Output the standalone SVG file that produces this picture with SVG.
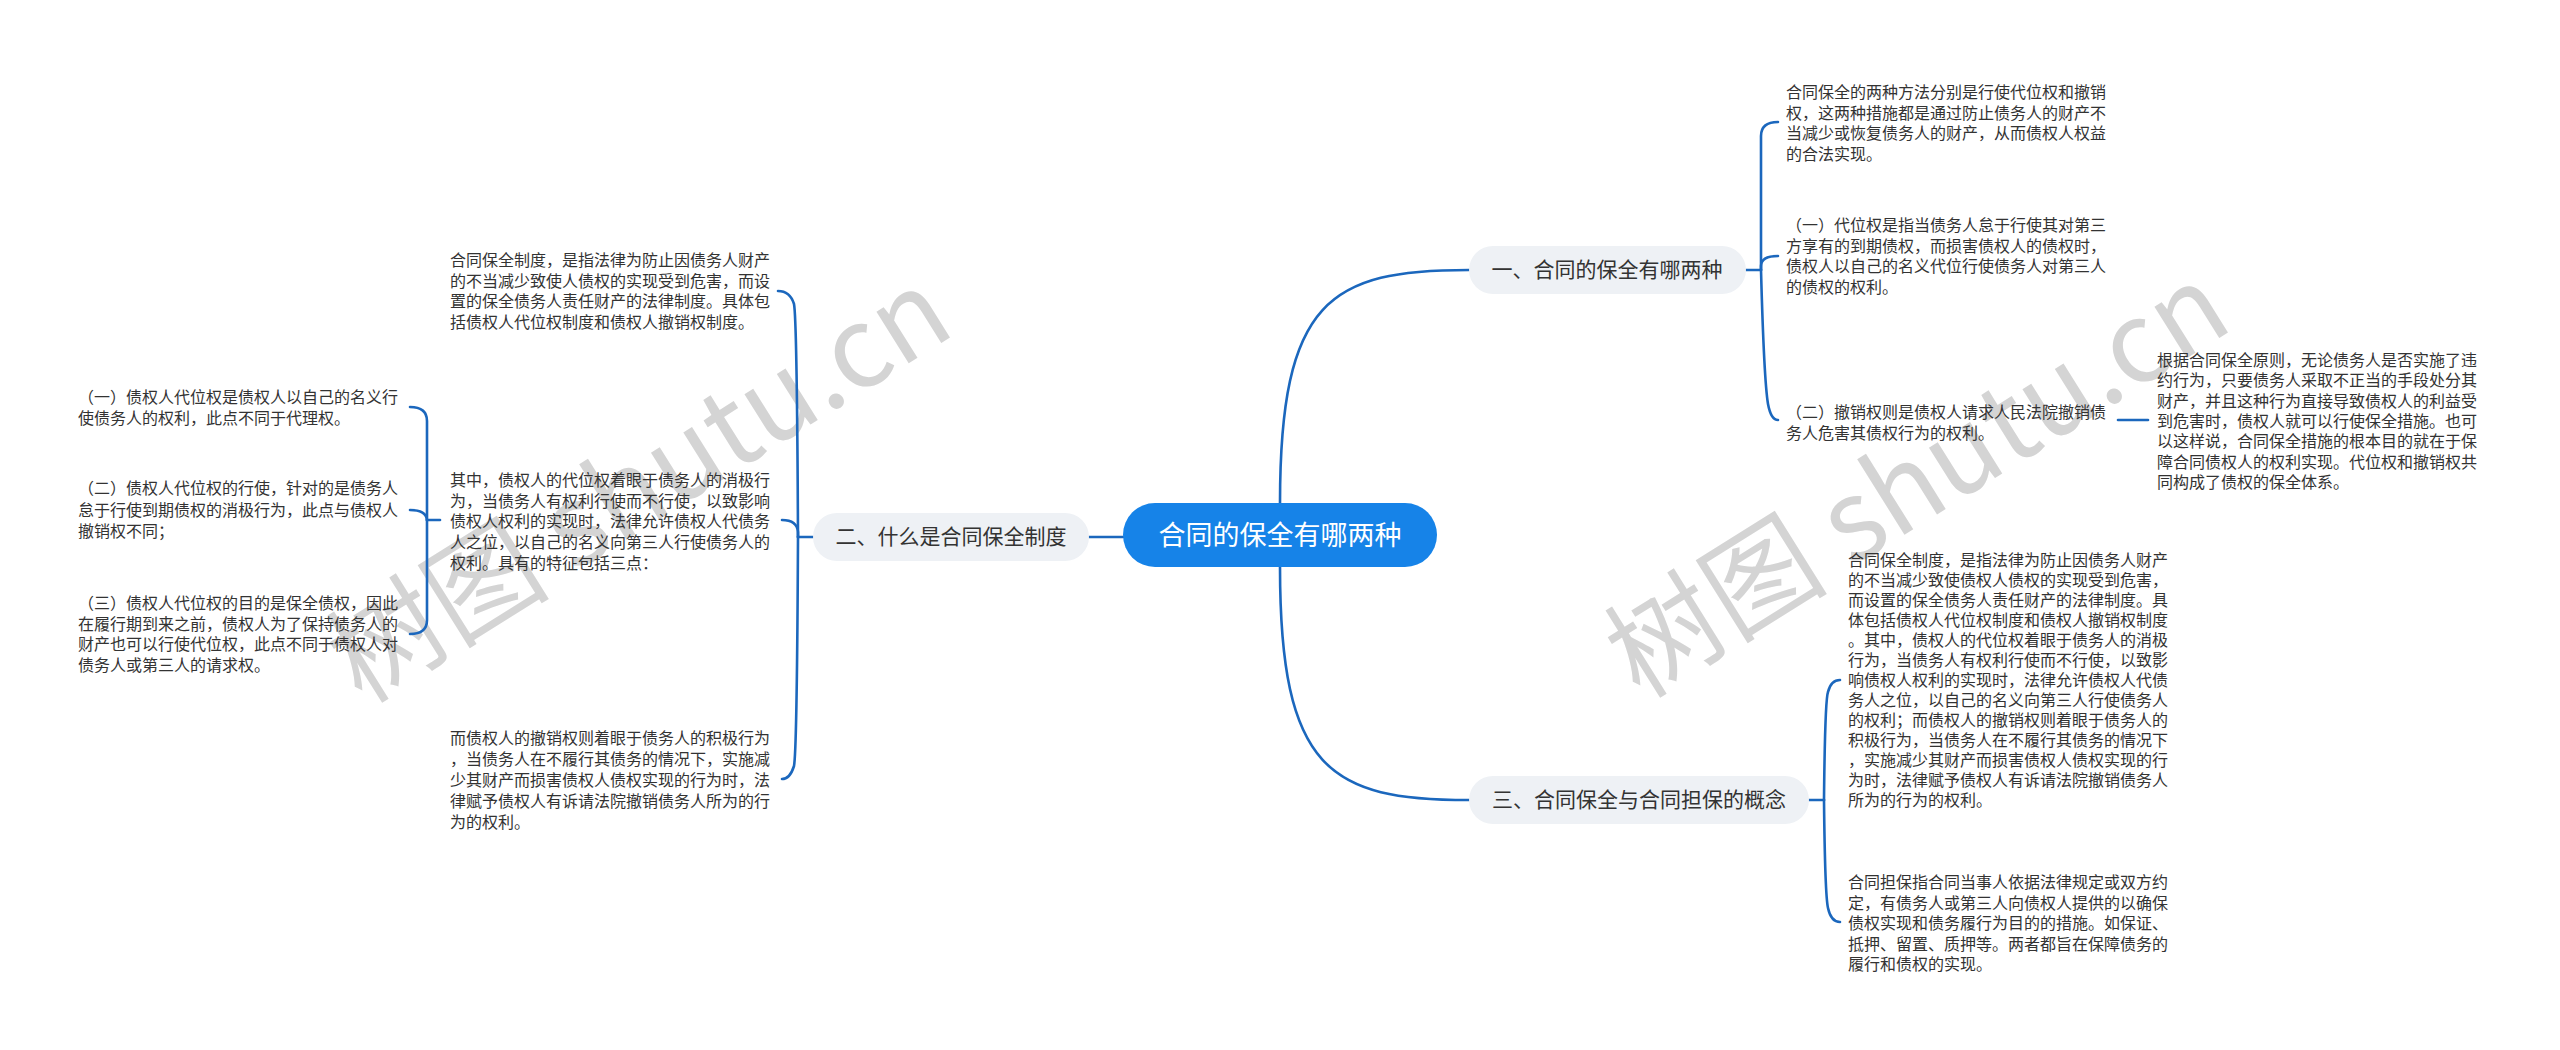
<svg xmlns="http://www.w3.org/2000/svg" width="2560" height="1050" viewBox="0 0 2560 1050">
<style>
.wm{font-family:"Noto Sans CJK SC","Noto Sans",sans-serif;font-size:112px;fill:#d4d4d4}
.ln{fill:none;stroke:#1b67bd;stroke-width:2.6;stroke-linecap:round}
.nb{fill:#eef1f5}
.nt{font-family:"Noto Sans CJK SC",sans-serif;font-size:21px;fill:#333;text-anchor:middle}
.rt{font-family:"Noto Sans CJK SC",sans-serif;font-size:27px;fill:#fff;text-anchor:middle}
.tx{font-family:"Noto Sans CJK SC",sans-serif;font-size:16px;fill:#333}
</style>
<rect width="2560" height="1050" fill="#fff"/>
<g id="watermark">
<text class="wm" transform="translate(362,705) rotate(-32)">树图 shutu.cn</text>
<text class="wm" transform="translate(1640,700) rotate(-32)">树图 shutu.cn</text>
</g>
<g id="connectors">
<path class="ln" d="M1280,503 C1280,300 1330,270 1469,270"/>
<path class="ln" d="M1280,567 C1280,770 1330,800 1469,800"/>
<path class="ln" d="M1123,537 L1089,537"/>
<path class="ln" d="M1746,270 L1761,270"/>
<path class="ln" d="M1761,270 L1761,136 Q1761,122 1778,122"/>
<path class="ln" d="M1761,270 L1761,266 Q1761,256 1778,256"/>
<path class="ln" d="M1761,270 Q1764,380 1768,404 Q1771,420 1778,420"/>
<path class="ln" d="M1809,800 L1824,800"/>
<path class="ln" d="M1824,800 Q1825,700 1828,692 Q1831,680 1840,680"/>
<path class="ln" d="M1824,800 Q1825,895 1828,908 Q1831,922 1840,922"/>
<path class="ln" d="M2118,420 L2148,420"/>
<path class="ln" d="M813,537 L798,537"/>
<path class="ln" d="M798,537 Q797,320 794,304 Q790,291 778,291"/>
<path class="ln" d="M798,537 L798,532 Q797,520 782,520"/>
<path class="ln" d="M798,537 Q797,750 794,766 Q790,779 782,779"/>
<path class="ln" d="M440,520 L427,520"/>
<path class="ln" d="M427,520 L427,421 Q427,407 410,407"/>
<path class="ln" d="M427,520 L427,520 Q426,510 410,510"/>
<path class="ln" d="M427,520 L427,620 Q427,634 410,634"/>
</g>
<g id="root">
<rect x="1123" y="503" width="314" height="64" rx="32" fill="#1683e8"/>
<text class="rt" x="1280" y="545">合同的保全有哪两种</text>
</g>
<g id="node1">
<rect class="nb" x="1469" y="246" width="277" height="48" rx="24"/>
<text class="nt" x="1607" y="277">一、合同的保全有哪两种</text>
</g>
<g id="node2">
<rect class="nb" x="813" y="513" width="276" height="48" rx="24"/>
<text class="nt" x="951" y="544">二、什么是合同保全制度</text>
</g>
<g id="node3">
<rect class="nb" x="1469" y="776" width="340" height="48" rx="24"/>
<text class="nt" x="1639" y="807">三、合同保全与合同担保的概念</text>
</g>
<g id="t1">
<text class="tx" x="1786" y="98">
<tspan x="1786" dy="0">合同保全的两种方法分别是行使代位权和撤销</tspan>
<tspan x="1786" dy="20.5">权，这两种措施都是通过防止债务人的财产不</tspan>
<tspan x="1786" dy="20.5">当减少或恢复债务人的财产，从而债权人权益</tspan>
<tspan x="1786" dy="20.5">的合法实现。</tspan>
</text>
</g>
<g id="t2">
<text class="tx" x="1786" y="231">
<tspan x="1786" dy="0">（一）代位权是指当债务人怠于行使其对第三</tspan>
<tspan x="1786" dy="20.5">方享有的到期债权，而损害债权人的债权时，</tspan>
<tspan x="1786" dy="20.5">债权人以自己的名义代位行使债务人对第三人</tspan>
<tspan x="1786" dy="20.5">的债权的权利。</tspan>
</text>
</g>
<g id="t3">
<text class="tx" x="1786" y="418">
<tspan x="1786" dy="0">（二）撤销权则是债权人请求人民法院撤销债</tspan>
<tspan x="1786" dy="20.5">务人危害其债权行为的权利。</tspan>
</text>
</g>
<g id="t4">
<text class="tx" x="2157" y="366">
<tspan x="2157" dy="0">根据合同保全原则，无论债务人是否实施了违</tspan>
<tspan x="2157" dy="20.3">约行为，只要债务人采取不正当的手段处分其</tspan>
<tspan x="2157" dy="20.3">财产，并且这种行为直接导致债权人的利益受</tspan>
<tspan x="2157" dy="20.3">到危害时，债权人就可以行使保全措施。也可</tspan>
<tspan x="2157" dy="20.3">以这样说，合同保全措施的根本目的就在于保</tspan>
<tspan x="2157" dy="20.3">障合同债权人的权利实现。代位权和撤销权共</tspan>
<tspan x="2157" dy="20.3">同构成了债权的保全体系。</tspan>
</text>
</g>
<g id="t5">
<text class="tx" x="1848" y="566">
<tspan x="1848" dy="0">合同保全制度，是指法律为防止因债务人财产</tspan>
<tspan x="1848" dy="20">的不当减少致使债权人债权的实现受到危害，</tspan>
<tspan x="1848" dy="20">而设置的保全债务人责任财产的法律制度。具</tspan>
<tspan x="1848" dy="20">体包括债权人代位权制度和债权人撤销权制度</tspan>
<tspan x="1848" dy="20">。其中，债权人的代位权着眼于债务人的消极</tspan>
<tspan x="1848" dy="20">行为，当债务人有权利行使而不行使，以致影</tspan>
<tspan x="1848" dy="20">响债权人权利的实现时，法律允许债权人代债</tspan>
<tspan x="1848" dy="20">务人之位，以自己的名义向第三人行使债务人</tspan>
<tspan x="1848" dy="20">的权利；而债权人的撤销权则着眼于债务人的</tspan>
<tspan x="1848" dy="20">积极行为，当债务人在不履行其债务的情况下</tspan>
<tspan x="1848" dy="20">，实施减少其财产而损害债权人债权实现的行</tspan>
<tspan x="1848" dy="20">为时，法律赋予债权人有诉请法院撤销债务人</tspan>
<tspan x="1848" dy="20">所为的行为的权利。</tspan>
</text>
</g>
<g id="t6">
<text class="tx" x="1848" y="888">
<tspan x="1848" dy="0">合同担保指合同当事人依据法律规定或双方约</tspan>
<tspan x="1848" dy="20.5">定，有债务人或第三人向债权人提供的以确保</tspan>
<tspan x="1848" dy="20.5">债权实现和债务履行为目的的措施。如保证、</tspan>
<tspan x="1848" dy="20.5">抵押、留置、质押等。两者都旨在保障债务的</tspan>
<tspan x="1848" dy="20.5">履行和债权的实现。</tspan>
</text>
</g>
<g id="tA">
<text class="tx" x="450" y="266">
<tspan x="450" dy="0">合同保全制度，是指法律为防止因债务人财产</tspan>
<tspan x="450" dy="20.7">的不当减少致使人债权的实现受到危害，而设</tspan>
<tspan x="450" dy="20.7">置的保全债务人责任财产的法律制度。具体包</tspan>
<tspan x="450" dy="20.7">括债权人代位权制度和债权人撤销权制度。</tspan>
</text>
</g>
<g id="tB">
<text class="tx" x="450" y="486">
<tspan x="450" dy="0">其中，债权人的代位权着眼于债务人的消极行</tspan>
<tspan x="450" dy="20.7">为，当债务人有权利行使而不行使，以致影响</tspan>
<tspan x="450" dy="20.7">债权人权利的实现时，法律允许债权人代债务</tspan>
<tspan x="450" dy="20.7">人之位，以自己的名义向第三人行使债务人的</tspan>
<tspan x="450" dy="20.7">权利。具有的特征包括三点：</tspan>
</text>
</g>
<g id="tC">
<text class="tx" x="450" y="744">
<tspan x="450" dy="0">而债权人的撤销权则着眼于债务人的积极行为</tspan>
<tspan x="450" dy="21">，当债务人在不履行其债务的情况下，实施减</tspan>
<tspan x="450" dy="21">少其财产而损害债权人债权实现的行为时，法</tspan>
<tspan x="450" dy="21">律赋予债权人有诉请法院撤销债务人所为的行</tspan>
<tspan x="450" dy="21">为的权利。</tspan>
</text>
</g>
<g id="tD">
<text class="tx" x="78" y="403">
<tspan x="78" dy="0">（一）债权人代位权是债权人以自己的名义行</tspan>
<tspan x="78" dy="20.7">使债务人的权利，此点不同于代理权。</tspan>
</text>
</g>
<g id="tE">
<text class="tx" x="78" y="494">
<tspan x="78" dy="0">（二）债权人代位权的行使，针对的是债务人</tspan>
<tspan x="78" dy="21.5">怠于行使到期债权的消极行为，此点与债权人</tspan>
<tspan x="78" dy="21.5">撤销权不同；</tspan>
</text>
</g>
<g id="tF">
<text class="tx" x="78" y="609">
<tspan x="78" dy="0">（三）债权人代位权的目的是保全债权，因此</tspan>
<tspan x="78" dy="20.7">在履行期到来之前，债权人为了保持债务人的</tspan>
<tspan x="78" dy="20.7">财产也可以行使代位权，此点不同于债权人对</tspan>
<tspan x="78" dy="20.7">债务人或第三人的请求权。</tspan>
</text>
</g>
</svg>
